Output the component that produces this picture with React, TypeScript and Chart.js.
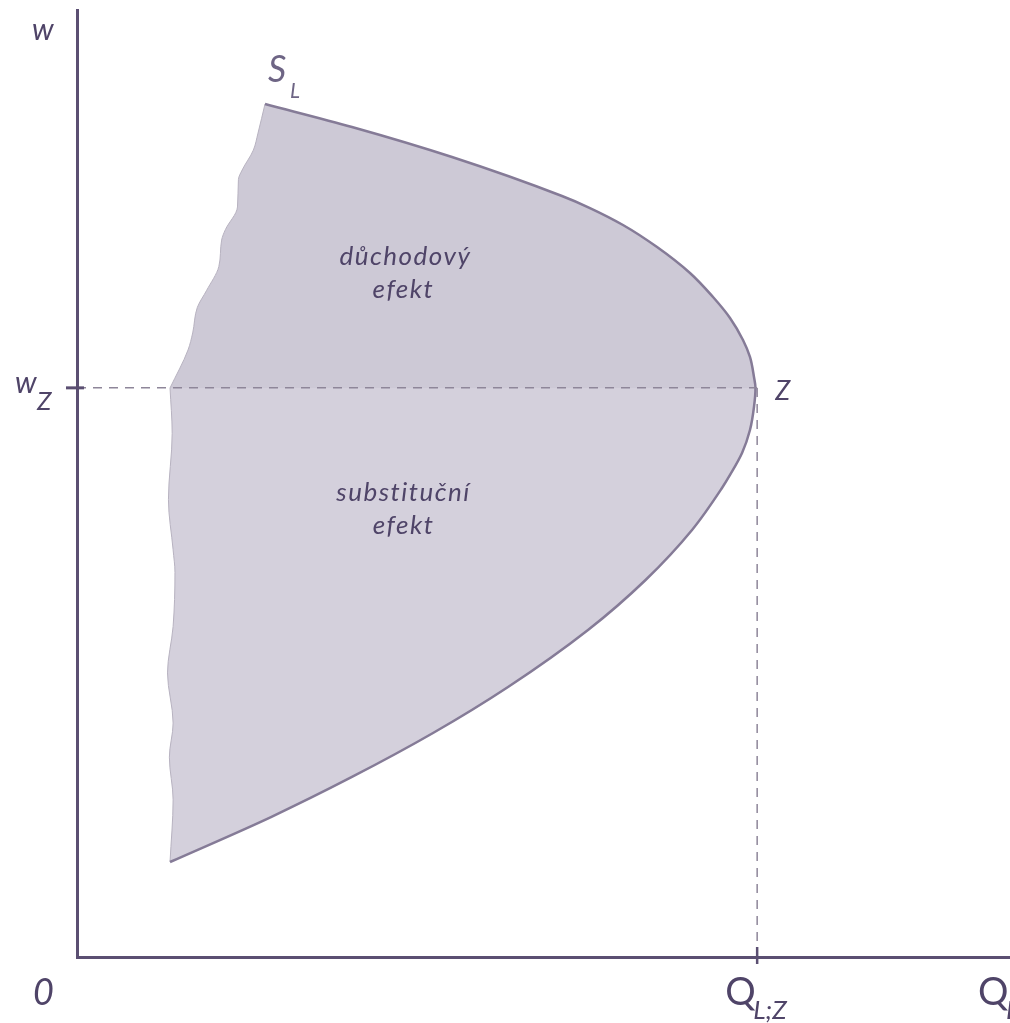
import React, { useEffect, useRef } from "react";
import { Chart, registerables } from "chart.js";

Chart.register(...registerables);

// Equilibrium point Z (dashed guide lines)
const qZ = 72.9;
const wZ = 60.1;

// Labour supply curve S_L, upper (backward-bending) part: from Z up to the top end
const supplyUpperQ = [72.72, 72.56, 72.13, 71.38, 69.99, 68.17, 65.7, 62.17, 58.52, 54.98, 51.98, 40.19, 29.47, 20.15];
const supplyUpperW = [60.09, 61.25, 63.36, 65.15, 67.48, 69.69, 72.23, 74.97, 77.3, 79.09, 80.36, 84.48, 87.65, 90.07];

// Lower part: from the bottom end up to Z
const supplyLowerQ = [9.97, 20.79, 29.47, 38.16, 46.2, 54.77, 60.94, 65.92, 69.13, 69.99, 71.28, 72.13, 72.56, 72.72];
const supplyLowerW = [10.03, 14.78, 19.01, 23.65, 28.51, 34.53, 39.81, 45.09, 49.52, 50.9, 53.22, 55.65, 58.08, 60.09];

// Torn left edge of the shaded area, upper part (w_Z -> top)
const edgeUpperQ = [9.97, 11.9, 12.4, 12.9, 13.9, 15.2, 15.5, 15.9, 17.2, 17.3, 17.7, 18.9, 19.4, 20.15];
const edgeUpperW = [60.09, 64.1, 65.9, 68.6, 70.4, 72.9, 75.7, 76.8, 79.2, 82.1, 83.1, 85.2, 87.0, 90.07];

// Torn left edge, lower part (bottom -> w_Z)
const edgeLowerQ = [9.97, 10.3, 9.9, 10.3, 9.7, 10.3, 10.5, 10.3, 9.8, 10.2, 9.97];
const edgeLowerW = [10.03, 16.6, 21.1, 24.7, 30.0, 34.9, 40.6, 43.0, 48.3, 55.3, 60.09];

// Text
const incomeLabel = ["důchodový", "efekt"];
const substitutionLabel = ["substituční", "efekt"];
const incomeLabelPos = { q: 35.2, w: 73.1 };
const substitutionLabelPos = { q: 35.0, w: 48.1 };

const axisColor = "#5b4f72";
const textColor = "#4f4468";
const curveColor = "#857b97";
const upperFillColor = "#cdc9d6";
const lowerFillColor = "#d4d0dc";
const dashColor = "#8e8699";
const edgeColor = "#b7b2c0";

function pts(q: number[], w: number[]) {
  return q.map((x, i) => ({ x, y: w[i] }));
}

const FONT = 'Lato, "DejaVu Sans", sans-serif';

const labelsPlugin = {
  id: "econLabels",
  afterDraw(chart: any) {
    const { ctx } = chart;
    const x = chart.scales.x;
    const y = chart.scales.y;
    const ax = x.getPixelForValue(0);
    const ay = y.getPixelForValue(0);
    const zx = x.getPixelForValue(qZ);
    const zy = y.getPixelForValue(wZ);
    const topX = x.getPixelForValue(supplyUpperQ[supplyUpperQ.length - 1]);
    const topY = y.getPixelForValue(supplyUpperW[supplyUpperW.length - 1]);
    const yTop = y.getPixelForValue(100);
    ctx.save();
    // tick marks
    ctx.strokeStyle = axisColor;
    ctx.lineWidth = 3;
    ctx.beginPath();
    ctx.moveTo(ax - 11, zy);
    ctx.lineTo(ax + 7, zy);
    ctx.stroke();
    ctx.lineWidth = 2.5;
    ctx.beginPath();
    ctx.moveTo(zx, ay - 10);
    ctx.lineTo(zx, ay + 7);
    ctx.stroke();

    ctx.fillStyle = textColor;
    ctx.textBaseline = "alphabetic";
    ctx.textAlign = "left";
    const t = (s: string, px: number, py: number, font: string) => {
      ctx.font = font;
      ctx.fillText(s, px, py);
    };
    // axis labels
    t("w", ax - 45, yTop + 30, `italic 30px ${FONT}`);
    t("w", ax - 62, zy + 5, `italic 30px ${FONT}`);
    t("Z", ax - 40, zy + 22, `italic 26px ${FONT}`);
    t("0", ax - 44, ay + 48, `italic 36px ${FONT}`);
    t("Q", zx - 32, ay + 48, `38px ${FONT}`);
    t("L;Z", zx - 4, ay + 62, `italic 26px ${FONT}`);
    t("Q", x.right - 32, ay + 48, `38px ${FONT}`);
    t("L", x.right - 4, ay + 62, `italic 26px ${FONT}`);
    t("Z", zx + 18, zy + 12, `italic 27px ${FONT}`);
    ctx.fillStyle = "#6e6585";
    t("S", topX + 3, topY - 22, `italic 36px ${FONT}`);
    t("L", topX + 25, topY - 6, `italic 21px ${FONT}`);

    // region labels
    ctx.fillStyle = textColor;
    ctx.textAlign = "center";
    (ctx as any).letterSpacing = "1.5px";
    ctx.font = `italic 26px ${FONT}`;
    const ix = x.getPixelForValue(incomeLabelPos.q);
    const iy = y.getPixelForValue(incomeLabelPos.w);
    ctx.fillText(incomeLabel[0], ix, iy);
    ctx.fillText(incomeLabel[1], ix - 2, iy + 33);
    const sx = x.getPixelForValue(substitutionLabelPos.q);
    const sy = y.getPixelForValue(substitutionLabelPos.w);
    ctx.fillText(substitutionLabel[0], sx, sy);
    ctx.fillText(substitutionLabel[1], sx, sy + 33);
    ctx.restore();
  },
};

export default function App() {
  const ref = useRef<HTMLCanvasElement>(null);
  useEffect(() => {
    const upper = pts(supplyUpperQ, supplyUpperW);
    const lower = pts(supplyLowerQ, supplyLowerW);
    const edgeU = pts(edgeUpperQ, edgeUpperW);
    const edgeL = pts(edgeLowerQ, edgeLowerW);
    const curve = [...lower, ...upper.slice(1)];

    const common = { pointRadius: 0, pointHoverRadius: 0, showLine: true };
    const smooth = { indexAxis: "y", cubicInterpolationMode: "monotone" };
    const chart = new Chart(ref.current as HTMLCanvasElement, {
      type: "line",
      data: {
        datasets: [
          {
            ...common,
            label: "wZ dashed",
            data: [{ x: 0, y: wZ }, { x: qZ, y: wZ }],
            borderColor: dashColor,
            borderWidth: 1.5,
            borderDash: [9, 7],
            fill: false,
            order: 1,
          },
          {
            ...common,
            label: "QZ dashed",
            data: [{ x: qZ, y: 0 }, { x: qZ, y: wZ }],
            borderColor: dashColor,
            borderWidth: 1.5,
            borderDash: [9, 7],
            fill: false,
            order: 3,
          },
          {
            ...common,
            ...smooth,
            label: "S_L",
            data: curve,
            borderColor: curveColor,
            borderWidth: 2.5,
            fill: false,
            order: 2,
          },
          {
            ...common,
            ...smooth,
            label: "edge upper",
            data: edgeU,
            borderColor: edgeColor,
            borderWidth: 1,
            fill: false,
            order: 5,
          },
          {
            ...common,
            ...smooth,
            label: "edge lower",
            data: edgeL,
            borderColor: edgeColor,
            borderWidth: 1,
            fill: false,
            order: 5,
          },
          {
            ...common,
            ...smooth,
            label: "income effect",
            data: upper,
            borderWidth: 0,
            borderColor: "rgba(0,0,0,0)",
            backgroundColor: upperFillColor,
            fill: 3,
            order: 10,
          },
          {
            ...common,
            ...smooth,
            label: "substitution effect",
            data: lower,
            borderWidth: 0,
            borderColor: "rgba(0,0,0,0)",
            backgroundColor: lowerFillColor,
            fill: 4,
            order: 10,
          },
        ] as any,
      },
      options: {
        animation: false,
        responsive: false,
        devicePixelRatio: 1,
        events: [],
        layout: { padding: { left: 77, right: 0, top: 10, bottom: 66 } },
        plugins: {
          legend: { display: false },
          tooltip: { enabled: false },
          title: { display: false },
        },
        scales: {
          x: {
            type: "linear",
            min: 0,
            max: 100,
            grid: { display: false, drawTicks: false },
            ticks: { display: false },
            border: { display: true, color: axisColor, width: 3 },
            afterFit: (s: any) => {
              s.height = 0;
            },
          },
          y: {
            type: "linear",
            min: 0,
            max: 100,
            grid: { display: false, drawTicks: false },
            ticks: { display: false },
            border: { display: true, color: axisColor, width: 3 },
            afterFit: (s: any) => {
              s.width = 0;
            },
          },
        },
      } as any,
      plugins: [labelsPlugin],
    });
    return () => chart.destroy();
  }, []);

  return (
    <div style={{ position: "fixed", left: 0, top: 0, width: 1010, height: 1023, background: "#fff" }}>
      <canvas ref={ref} width={1010} height={1023} style={{ width: 1010, height: 1023, display: "block" }} />
    </div>
  );
}
